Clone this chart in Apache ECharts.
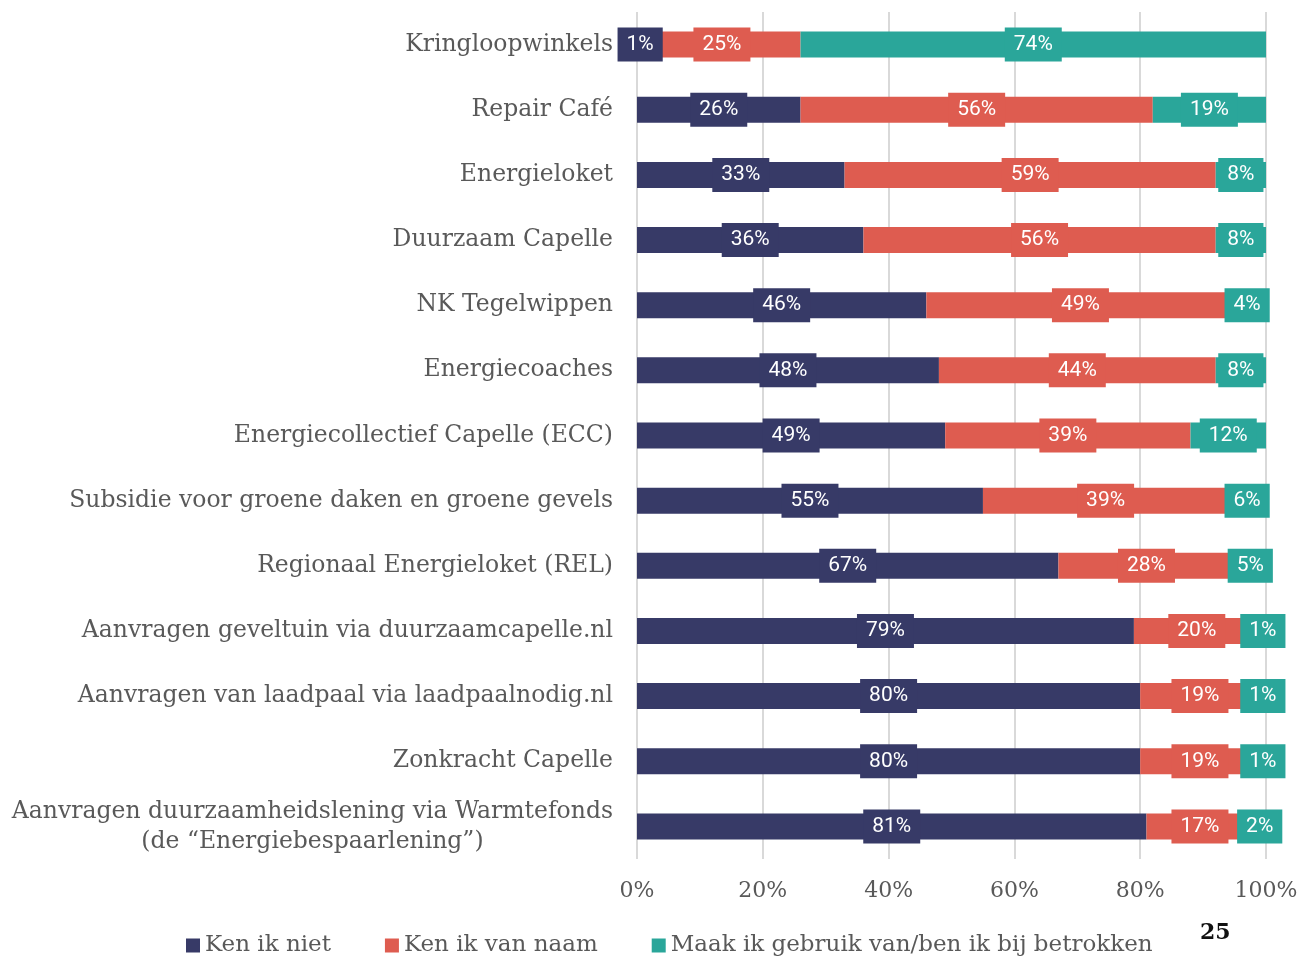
<!DOCTYPE html>
<html>
<head>
<meta charset="utf-8">
<title>Bekendheid initiatieven</title>
<script src="https://cdn.jsdelivr.net/npm/echarts@6/dist/echarts.min.js"></script>
<style>
  html, body { margin: 0; padding: 0; background: #fff; }
  #main { width: 1301px; height: 957px; }
</style>
</head>
<body>
<div id="main"></div>
<script>
// categorieen van boven naar beneden
var categories = [
  'Kringloopwinkels',
  'Repair Café',
  'Energieloket',
  'Duurzaam Capelle',
  'NK Tegelwippen',
  'Energiecoaches',
  'Energiecollectief Capelle (ECC)',
  'Subsidie voor groene daken en groene gevels',
  'Regionaal Energieloket (REL)',
  'Aanvragen geveltuin via duurzaamcapelle.nl',
  'Aanvragen van laadpaal via laadpaalnodig.nl',
  'Zonkracht Capelle',
  'Aanvragen duurzaamheidslening via Warmtefonds\n(de \u201cEnergiebespaarlening\u201d)'
];
var kenIkNiet   = [1, 26, 33, 36, 46, 48, 49, 55, 67, 79, 80, 80, 81];
var kenVanNaam  = [25, 56, 59, 56, 49, 44, 39, 39, 28, 20, 19, 19, 17];
var maakGebruik = [74, 19, 8, 8, 4, 8, 12, 6, 5, 1, 1, 1, 2];
var xTicks = [0, 20, 40, 60, 80, 100];
var pageNumber = '25';

var serif = '"DejaVu Serif", serif';
var grey = '#595959';

var myChart = echarts.init(document.getElementById('main'));

function labelStyle(bg) {
  return {
    show: true,
    position: 'inside',
    color: '#fff',
    fontFamily: 'Roboto',
    fontSize: 21,
    lineHeight: 22,
    backgroundColor: bg,
    padding: [6, 9, 6, 9],
    formatter: '{c}%'
  };
}

function makeSeries(name, data, color) {
  return {
    type: 'bar',
    name: name,
    stack: 'totaal',
    barWidth: 26,
    data: data,
    itemStyle: { color: color },
    label: labelStyle(color),
    emphasis: { disabled: true }
  };
}

var option = {
  animation: false,
  grid: {
    left: 637,
    right: 35,
    top: 12,
    bottom: 98
  },
  legend: {
    left: 181,
    top: 929,
    itemWidth: 14,
    itemHeight: 14,
    itemGap: 54,
    icon: 'rect',
    textStyle: { color: grey, fontFamily: serif, fontSize: 23 },
    data: ['Ken ik niet', 'Ken ik van naam', 'Maak ik gebruik van/ben ik bij betrokken']
  },
  xAxis: {
    type: 'value',
    min: 0,
    max: 100,
    interval: 20,
    axisLine: { show: false },
    axisTick: { show: false },
    splitLine: { lineStyle: { color: '#d9d9d9', width: 2 } },
    axisLabel: {
      color: grey,
      fontFamily: serif,
      fontSize: 22,
      margin: 21,
      formatter: function (v) { return xTicks.indexOf(v) > -1 ? v + '%' : ''; }
    }
  },
  yAxis: {
    type: 'category',
    inverse: true,
    data: categories,
    axisLine: { show: false },
    axisTick: { show: false },
    splitLine: { show: false },
    axisLabel: {
      color: grey,
      fontFamily: serif,
      fontSize: 23.5,
      lineHeight: 30,
      margin: 24,
      formatter: function (v) {
        if (v.indexOf('\n') > -1) {
          return v.split('\n').map(function (s) { return '{c|' + s + '}'; }).join('\n');
        }
        return v;
      },
      rich: {
        c: { align: 'center', color: grey, fontFamily: serif, fontSize: 23.5, lineHeight: 30 }
      }
    }
  },
  series: [
    makeSeries('Ken ik niet', kenIkNiet, '#373a67'),
    makeSeries('Ken ik van naam', kenVanNaam, '#de5c50'),
    makeSeries('Maak ik gebruik van/ben ik bij betrokken', maakGebruik, '#2aa69a')
  ],
  graphic: [{
    type: 'text',
    left: 1200,
    top: 922,
    style: {
      text: pageNumber,
      fill: '#111',
      font: 'bold 22px "DejaVu Serif", serif'
    }
  }]
};

myChart.setOption(option);

window.addEventListener('resize', function () {
  myChart.resize();
});
</script>
</body>
</html>
